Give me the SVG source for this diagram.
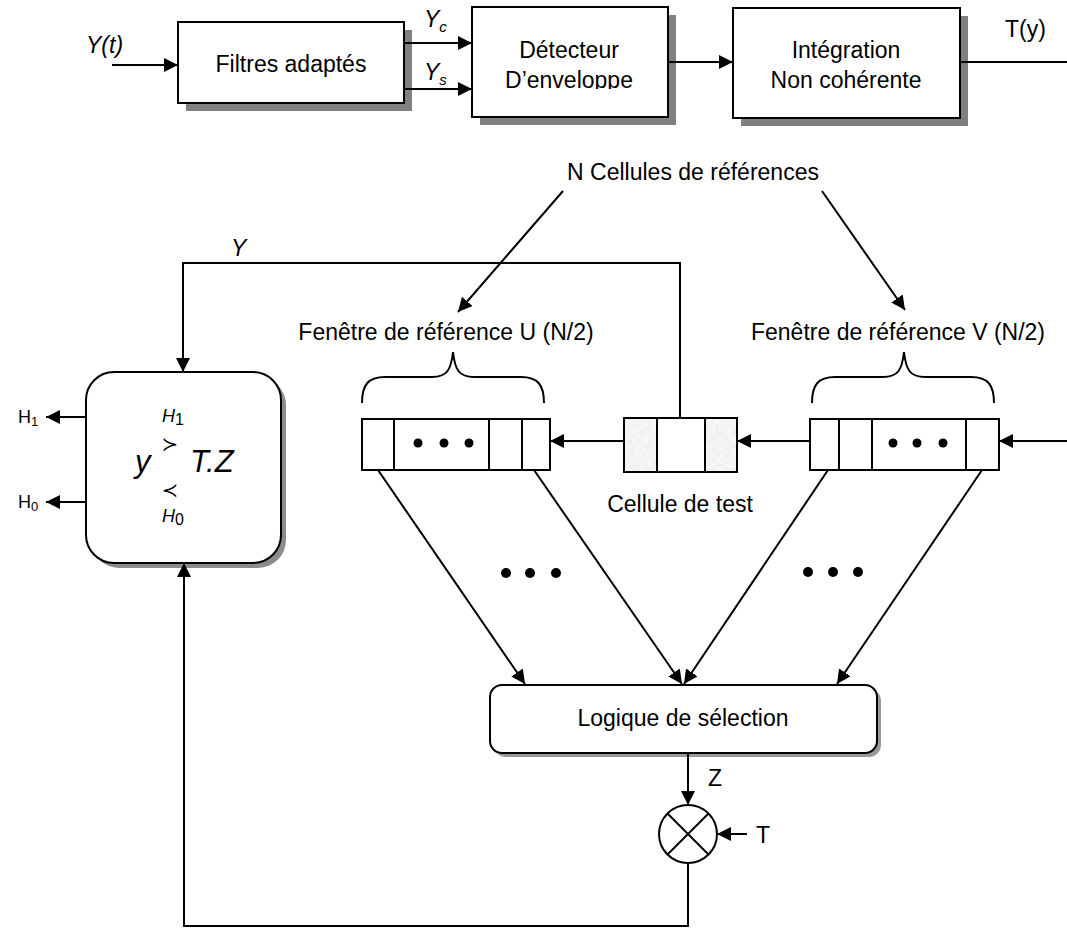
<svg xmlns="http://www.w3.org/2000/svg" width="1067" height="929" viewBox="0 0 1067 929">
  <style>
    .box { fill: #ffffff; stroke: #000000; stroke-width: 2; }
    .shadow { fill: #808080; stroke: none; }
    .line { fill: none; stroke: #000000; stroke-width: 2; }
    .arrow { fill: none; stroke: #000000; stroke-width: 2; marker-end: url(#head); }
    .lbl { font-family: "Liberation Sans", Arial, sans-serif; font-size: 23px; fill: #000000; }
    .mid { text-anchor: middle; }
    .it { font-style: italic; }
    .sym { font-family: "DejaVu Sans", sans-serif; font-size: 20px; text-anchor: middle; fill: #000000; }
    .shade { fill: #e6e6e6; stroke: #000000; stroke-width: 2; }
  </style>
  <defs>
    <marker id="head" viewBox="0 0 14 14" refX="14" refY="7" markerWidth="14" markerHeight="14" markerUnits="userSpaceOnUse" orient="auto">
      <path d="M0,0 L14,7 L0,14 z" fill="#000000"/>
    </marker>
    <clipPath id="detClip">
      <rect x="472" y="7" width="200" height="82"/>
    </clipPath>
    <filter id="grain" x="0" y="0" width="1" height="1">
      <feTurbulence type="fractalNoise" baseFrequency="0.25" numOctaves="2" seed="3" result="n"/>
      <feColorMatrix in="n" type="matrix" values="0 0 0 0 0.86  0 0 0 0 0.86  0 0 0 0 0.86  0 0 0 -1.2 1.3" result="g"/>
      <feComposite in="g" in2="SourceGraphic" operator="in"/>
    </filter>
  </defs>

  <rect width="1067" height="929" fill="#ffffff"/>

  <!-- top processing chain -->
  <g id="input-label">
    <text class="lbl it" x="86" y="53">Y(t)</text>
  </g>

  <g id="filtres">
    <rect class="shadow" x="186" y="30" width="226" height="81"/>
    <rect class="box" x="178" y="22" width="226" height="81"/>
    <text class="lbl mid" x="291" y="72">Filtres adaptés</text>
  </g>

  <g id="yc-ys-labels">
    <text class="lbl it" x="424" y="27">Y<tspan style="font-size:15px" dy="5">c</tspan></text>
    <text class="lbl it" x="424" y="80">Y<tspan style="font-size:15px" dy="5">s</tspan></text>
  </g>

  <g id="detecteur">
    <rect class="shadow" x="480" y="15" width="196" height="110"/>
    <rect class="box" x="472" y="7" width="196" height="110"/>
    <text class="lbl mid" x="569" y="58">Détecteur</text>
    <text class="lbl mid" x="569" y="88" clip-path="url(#detClip)">D’enveloppe</text>
  </g>

  <g id="integration">
    <rect class="shadow" x="741" y="16" width="227" height="110"/>
    <rect class="box" x="733" y="8" width="227" height="110"/>
    <text class="lbl mid" x="846" y="58">Intégration</text>
    <text class="lbl mid" x="846" y="88">Non cohérente</text>
  </g>

  <g id="ty-label">
    <text class="lbl" x="1005" y="37">T(y)</text>
  </g>

  <!-- reference windows and test cell -->
  <g id="n-cellules">
    <text class="lbl mid" x="693" y="180">N Cellules de références</text>
  </g>

  <g id="fenetre-u">
    <text class="lbl mid" x="446" y="340">Fenêtre de référence U (N/2)</text>
    <path class="line" d="M362,403 C362,385 368,377 385,377 L432,377 C447,377 451,370 453,352 C455,370 459,377 474,377 L521,377 C538,377 544,385 544,403"/>
  </g>

  <g id="fenetre-v">
    <text class="lbl mid" x="898" y="340">Fenêtre de référence V (N/2)</text>
    <path class="line" d="M812,403 C812,385 818,377 835,377 L883,377 C898,377 902,370 904,352 C906,370 910,377 925,377 L971,377 C988,377 994,385 994,403"/>
  </g>

  <g id="registre-u">
    <rect class="box" x="362" y="419" width="188" height="51"/>
    <path class="line" d="M394,419 V470 M489,419 V470 M522,419 V470"/>
    <circle cx="418" cy="443" r="4.5"/>
    <circle cx="444" cy="443" r="4.5"/>
    <circle cx="469" cy="443" r="4.5"/>
  </g>

  <g id="cellule-test">
    <rect class="box" x="624" y="418" width="113" height="54"/>
    <rect class="shade" x="624" y="418" width="33" height="54" filter="url(#grain)"/>
    <rect class="shade" x="705" y="418" width="32" height="54" filter="url(#grain)"/>
    <rect x="624" y="418" width="113" height="54" fill="none" stroke="#000" stroke-width="2"/>
    <path class="line" d="M657,418 V472 M705,418 V472"/>
    <text class="lbl mid" x="680" y="512">Cellule de test</text>
  </g>

  <g id="registre-v">
    <rect class="box" x="810" y="419" width="189" height="51"/>
    <path class="line" d="M839,419 V470 M872,419 V470 M966,419 V470"/>
    <circle cx="893" cy="443" r="4.5"/>
    <circle cx="917" cy="443" r="4.5"/>
    <circle cx="943" cy="443" r="4.5"/>
  </g>

  <g id="dots-u">
    <circle cx="506" cy="573" r="5"/>
    <circle cx="530" cy="573" r="5"/>
    <circle cx="556" cy="573" r="5"/>
  </g>

  <g id="dots-v">
    <circle cx="808" cy="572" r="5"/>
    <circle cx="833" cy="572" r="5"/>
    <circle cx="858" cy="572" r="5"/>
  </g>

  <!-- decision block -->
  <g id="decision">
    <rect class="shadow" x="91" y="377" width="195" height="191" rx="28" style="fill:#8c8c8c"/>
    <rect class="box" x="86" y="372" width="195" height="191" rx="28"/>
    <text class="lbl it" x="162" y="422" style="font-size:18px">H<tspan style="font-style:normal;font-size:16px" dy="3">1</tspan></text>
    <text class="sym" x="170" y="451">≻</text>
    <text class="lbl it" x="135" y="472" style="font-size:31px">y</text>
    <text class="lbl it" x="190" y="472" style="font-size:31px">T.Z</text>
    <text class="sym" x="170" y="497">≺</text>
    <text class="lbl it" x="162" y="522" style="font-size:18px">H<tspan style="font-style:normal;font-size:16px" dy="3">0</tspan></text>
  </g>

  <g id="h-outputs">
    <text class="lbl" x="18" y="423" style="font-size:18px">H<tspan style="font-size:13px" dy="3">1</tspan></text>
    <text class="lbl" x="18" y="508" style="font-size:18px">H<tspan style="font-size:13px" dy="3">0</tspan></text>
  </g>

  <g id="y-label">
    <text class="lbl it" x="231" y="256">Y</text>
  </g>

  <!-- selection logic and multiplier -->
  <g id="logique">
    <rect class="shadow" x="494" y="689" width="387" height="68" rx="12" style="fill:#999999"/>
    <rect class="box" x="490" y="685" width="387" height="68" rx="12"/>
    <text class="lbl mid" x="683" y="726">Logique de sélection</text>
  </g>

  <g id="multiplieur">
    <circle class="box" cx="688" cy="834" r="29"/>
    <path class="line" d="M667.5,813.5 L708.5,854.5 M708.5,813.5 L667.5,854.5"/>
  </g>

  <g id="z-label">
    <text class="lbl" x="708" y="786">Z</text>
  </g>

  <g id="t-label">
    <text class="lbl" x="756" y="843">T</text>
  </g>

  <!-- connectors -->
  <g id="connectors">
    <line class="arrow" x1="112" y1="65" x2="178" y2="65"/>
    <line class="arrow" x1="404" y1="43" x2="472" y2="43"/>
    <line class="arrow" x1="404" y1="89" x2="472" y2="89"/>
    <line class="arrow" x1="668" y1="62" x2="733" y2="62"/>
    <line class="line" x1="960" y1="62" x2="1067" y2="62"/>

    <line class="arrow" x1="563" y1="191" x2="458" y2="312"/>
    <line class="arrow" x1="822" y1="191" x2="905" y2="310"/>

    <polyline class="arrow" points="680,418 680,263 183,263 183,372"/>

    <line class="arrow" x1="624" y1="441" x2="550" y2="441"/>
    <line class="arrow" x1="810" y1="441" x2="737" y2="441"/>
    <line class="arrow" x1="1067" y1="441" x2="999" y2="441"/>

    <line class="arrow" x1="86" y1="417" x2="46" y2="417"/>
    <line class="arrow" x1="86" y1="502" x2="46" y2="502"/>

    <line class="arrow" x1="378" y1="470" x2="525" y2="684"/>
    <line class="arrow" x1="534" y1="470" x2="682" y2="684"/>
    <line class="arrow" x1="828" y1="470" x2="684" y2="684"/>
    <line class="arrow" x1="982" y1="470" x2="837" y2="684"/>

    <line class="arrow" x1="688" y1="753" x2="688" y2="805"/>
    <line class="arrow" x1="747" y1="834" x2="717" y2="834"/>
    <polyline class="arrow" points="688,863 688,926 184,926 184,563"/>
  </g>
</svg>
